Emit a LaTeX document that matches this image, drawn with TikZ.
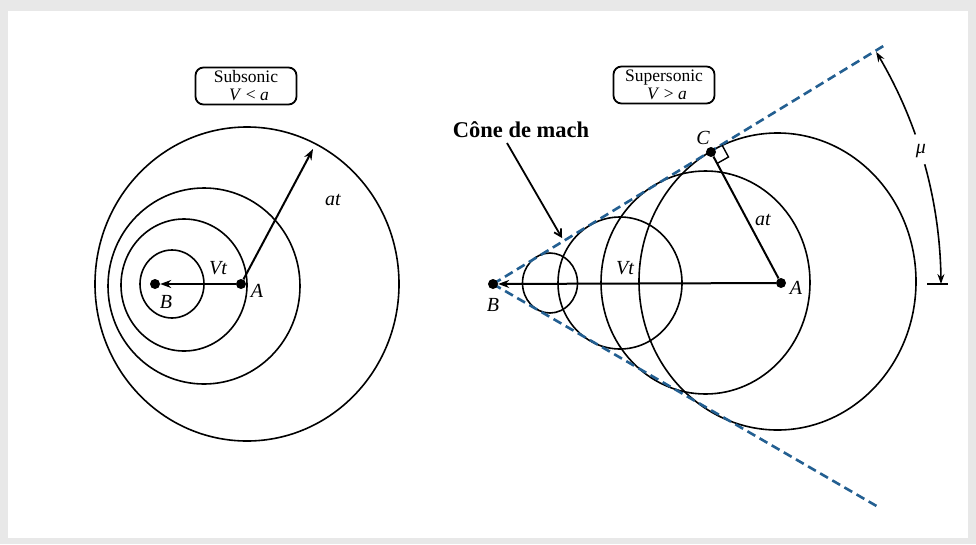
\documentclass[tikz,border=0pt]{standalone}
\usepackage{fontspec}
\setmainfont{Liberation Serif}
\usetikzlibrary{arrows.meta}
\definecolor{conecol}{RGB}{35,95,145}
\begin{document}
\begin{tikzpicture}[x=1pt,y=-1pt,
  dot/.style={circle,fill=black,inner sep=0pt,minimum size=10pt},
  wave/.style={line width=1.6pt},
  vec/.style={line width=2pt,-{Stealth[length=11pt,width=8pt]}},
  plain/.style={line width=2pt},
  cone/.style={conecol,line width=2.6pt,dash pattern=on 9pt off 5pt},
  lbl/.style={font=\fontsize{20}{20}\selectfont\itshape,inner sep=1pt},
  titlebox/.style={draw,line width=1.8pt,rounded corners=8pt,minimum width=101pt,minimum height=37pt,align=center,font=\fontsize{17.5}{18}\selectfont,inner sep=1pt},
  muarr/.style={line width=1.6pt,-{Stealth[length=10pt,width=7pt]}}]
\useasboundingbox (0,0) rectangle (976,544);
\fill[black!9] (0,0) rectangle (976,544);
\fill[white] (8,11) rectangle (968,538);

% ---------- Subsonic ----------
\node[titlebox] (sub) at (246,86) {Subsonic\\\hspace*{6pt}\textit{V} < \textit{a}};
\draw[wave] (247,284) ellipse [x radius=152pt, y radius=157pt];
\draw[wave] (204,286) ellipse [x radius=96pt, y radius=98pt];
\draw[wave] (184,285) ellipse [x radius=63pt, y radius=66pt];
\draw[wave] (172,284) ellipse [x radius=32pt, y radius=34pt];
\node[dot] (A1) at (241,284) {};
\node[dot] (B1) at (155,284) {};
\coordinate (T1) at (313,149);
\draw[vec] (A1) -- (B1);
\draw[vec] (A1) -- (T1);
\node[lbl] (lA1) at (257,291) {A};
\node[lbl] (lB1) at (166,302) {B};
\node[lbl] (lV1) at (218,268) {Vt};
\node[lbl] (la1) at (333,200) {at};

% ---------- Supersonic ----------
\node[titlebox] (sup) at (664,85) {Supersonic\\\hspace*{6pt}\textit{V} > \textit{a}};
\draw[wave] (550,283) ellipse [x radius=27.5pt, y radius=30pt];
\draw[wave] (620,283) ellipse [x radius=62pt, y radius=66pt];
\draw[wave] (705.5,282.5) ellipse [x radius=104.5pt, y radius=111.5pt];
\draw[wave] (777.5,281.5) ellipse [x radius=138.5pt, y radius=148.5pt];

\coordinate (Bc) at (493,284);
\coordinate (U) at (885,45);
\coordinate (L) at (880,508);
\draw[cone] (Bc) -- (U);
\draw[cone] (Bc) -- (L);

\node[dot] (B2) at (493,284) {};
\node[dot] (A2) at (781,283) {};
\node[dot] (C2) at (711,152) {};
\draw[vec] (A2) -- (B2);
\draw[plain] (C2) -- (A2);
\draw[line width=1.4pt] (722,145) -- (728.5,157) -- (717,163.5);

\node[lbl] (lC2) at (703,138) {C};
\node[lbl] (la2) at (763,220) {at};
\node[lbl] (lV2) at (625,268) {Vt};
\node[lbl] (lA2) at (796,288) {A};
\node[lbl] (lB2) at (493,305) {B};

% Mach cone label
\node[font=\fontsize{22.5}{22.5}\selectfont\bfseries,inner sep=1pt] (cm) at (521,130) {Cône de mach};
\coordinate (cmt) at (562,238);
\draw[line width=1.8pt,-{Straight Barb[length=7pt,width=8pt]}] (507,143) -- (cmt);

% mu angle
\draw[muarr] plot[domain=-19.5:-31.2,samples=25,smooth] ({493+448*cos(\x)},{284+448*sin(\x)});
\draw[muarr] plot[domain=-15.5:0,samples=25,smooth] ({493+448*cos(\x)},{284+448*sin(\x)});
\draw[line width=1.6pt] (927,284) -- (948,284);
\node[lbl] (mu) at (921,151) {μ};
\end{tikzpicture}
\end{document}
